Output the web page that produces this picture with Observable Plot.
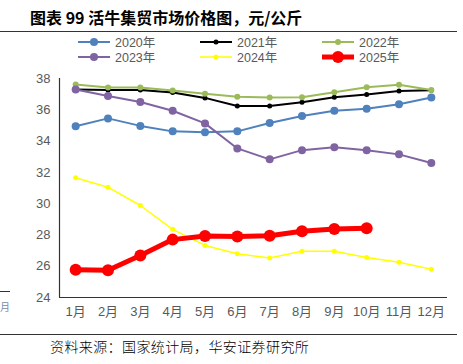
<!DOCTYPE html>
<html>
<head>
<meta charset="utf-8">
<script src="https://cdn.jsdelivr.net/npm/d3@7"></script>
<script src="https://cdn.jsdelivr.net/npm/@observablehq/plot@0.6"></script>
<style>
  html, body { margin: 0; padding: 0; background: #fff; }
  #wrap { position: relative; width: 463px; height: 364px; overflow: hidden; font-family: "Liberation Sans", "Noto Sans CJK SC", sans-serif; }
  #wrap > svg.plot { position: absolute; left: 0; top: 0; }
  .title { position: absolute; left: 30px; top: 6px; font-family: "Noto Sans CJK SC", sans-serif; font-weight: bold; font-size: 16px; color: #000; white-space: nowrap; line-height: 22px; }
  .hline { position: absolute; height: 1px; background: #333; }
  .foot { position: absolute; left: 50px; top: 336px; font-family: "Noto Sans CJK SC", sans-serif; font-size: 14px; letter-spacing: 0.4px; color: #000; white-space: nowrap; line-height: 20px; font-weight: 300; }
  .frag { position: absolute; left: 0px; top: 299px; font-family: "Noto Sans CJK SC", sans-serif; font-size: 10px; color: #7a8aa0; }
  #legend { position: absolute; left: 0; top: 33px; }
</style>
</head>
<body>
<div id="wrap">
  <div class="title">图表 99 活牛集贸市场价格图，元/公斤</div>
  <div class="hline" style="left:0;top:31px;width:457px;"></div>
  <div class="hline" style="left:0;top:334px;width:457px;"></div>
  <div class="hline" style="left:0;top:291px;width:10px;"></div>
  <div class="frag">月</div>
  <div class="foot">资料来源：国家统计局，华安证券研究所</div>
</div>
<script>
// ---- data ----
const monthLabels = ["1月","2月","3月","4月","5月","6月","7月","8月","9月","10月","11月","12月"];
const yTicks = [24, 26, 28, 30, 32, 34, 36, 38];
const seriesNames = ["2020年","2021年","2022年","2023年","2024年","2025年"];
const v2020 = [34.95, 35.45, 34.97, 34.62, 34.56, 34.62, 35.15, 35.6, 35.94, 36.07, 36.35, 36.78];
const v2021 = [37.3, 37.27, 37.27, 37.1, 36.76, 36.24, 36.24, 36.48, 36.8, 36.97, 37.2, 37.25];
const v2022 = [37.62, 37.42, 37.42, 37.23, 37.03, 36.84, 36.78, 36.8, 37.12, 37.44, 37.6, 37.27];
const v2023 = [37.3, 36.88, 36.5, 35.94, 35.13, 33.53, 32.83, 33.42, 33.6, 33.42, 33.15, 32.6];
const v2024 = [31.65, 31.05, 29.88, 28.36, 27.33, 26.8, 26.52, 26.95, 26.95, 26.56, 26.26, 25.8];
const v2025 = [25.78, 25.74, 26.69, 27.7, 27.93, 27.9, 27.95, 28.23, 28.38, 28.42];

const valueLists = [v2020, v2021, v2022, v2023, v2024, v2025];
const styles = [
  {color: "#4F81BD", sw: 2, r: 4},
  {color: "#000000", sw: 2, r: 2.5},
  {color: "#9BBB59", sw: 2, r: 3},
  {color: "#8064A2", sw: 2, r: 4},
  {color: "#FFFF00", sw: 1.5, r: 2.5},
  {color: "#FF0000", sw: 5, r: 6}
];

const rows = [];
valueLists.forEach((vals, si) => vals.forEach((v, i) => rows.push({series: seriesNames[si], month: i + 1, value: v})));

const marks = [];
seriesNames.forEach((name, si) => {
  const d = rows.filter(r => r.series === name);
  const s = styles[si];
  marks.push(Plot.line(d, {x: "month", y: "value", stroke: s.color, strokeWidth: s.sw}));
  marks.push(Plot.dot(d, {x: "month", y: "value", fill: s.color, r: s.r, stroke: "none"}));
});

const chart = Plot.plot({
  width: 463,
  height: 364,
  marginLeft: 59,
  marginRight: 16,
  marginTop: 78,
  marginBottom: 67,
  style: {fontFamily: "'Liberation Sans', 'Noto Sans CJK SC', sans-serif", fontSize: "13px", color: "#595959", background: "transparent"},
  x: {domain: [0.5, 12.5], ticks: d3.range(1, 13), tickFormat: d => monthLabels[d - 1], tickSize: 0, tickPadding: 9, label: null},
  y: {domain: [24, 38], ticks: yTicks, tickSize: 0, tickPadding: 9, label: null},
  marks: [
    Plot.ruleY([24], {stroke: "#333", strokeWidth: 1.2}),
    Plot.ruleX([0.5], {y1: 24, y2: 38, stroke: "#333", strokeWidth: 1.2}),
    ...marks
  ]
});
chart.classList.add("plot");
document.getElementById("wrap").prepend(chart);

// ---- legend ----
const legCols = [78, 200, 322];
const legRows = [42, 57];
const leg = d3.select("#wrap").append("svg").attr("id", "legend")
  .attr("width", 463).attr("height", 70)
  .style("position", "absolute").style("left", "0px").style("top", "0px")
  .attr("viewBox", "0 0 463 70");
seriesNames.forEach((name, si) => {
  const cx = legCols[si % 3], cy = legRows[Math.floor(si / 3)];
  const s = styles[si];
  const g = leg.append("g");
  g.append("line").attr("x1", cx).attr("x2", cx + 32).attr("y1", cy).attr("y2", cy)
    .attr("stroke", s.color).attr("stroke-width", s.sw);
  g.append("circle").attr("cx", cx + 16).attr("cy", cy).attr("r", s.r).attr("fill", s.color);
  g.append("text").attr("x", cx + 37).attr("y", cy).attr("dy", "0.36em")
    .attr("fill", "#595959").attr("font-size", 12.5)
    .attr("font-family", "'Liberation Sans', 'Noto Sans CJK SC', sans-serif")
    .text(name);
});
</script>
</body>
</html>
